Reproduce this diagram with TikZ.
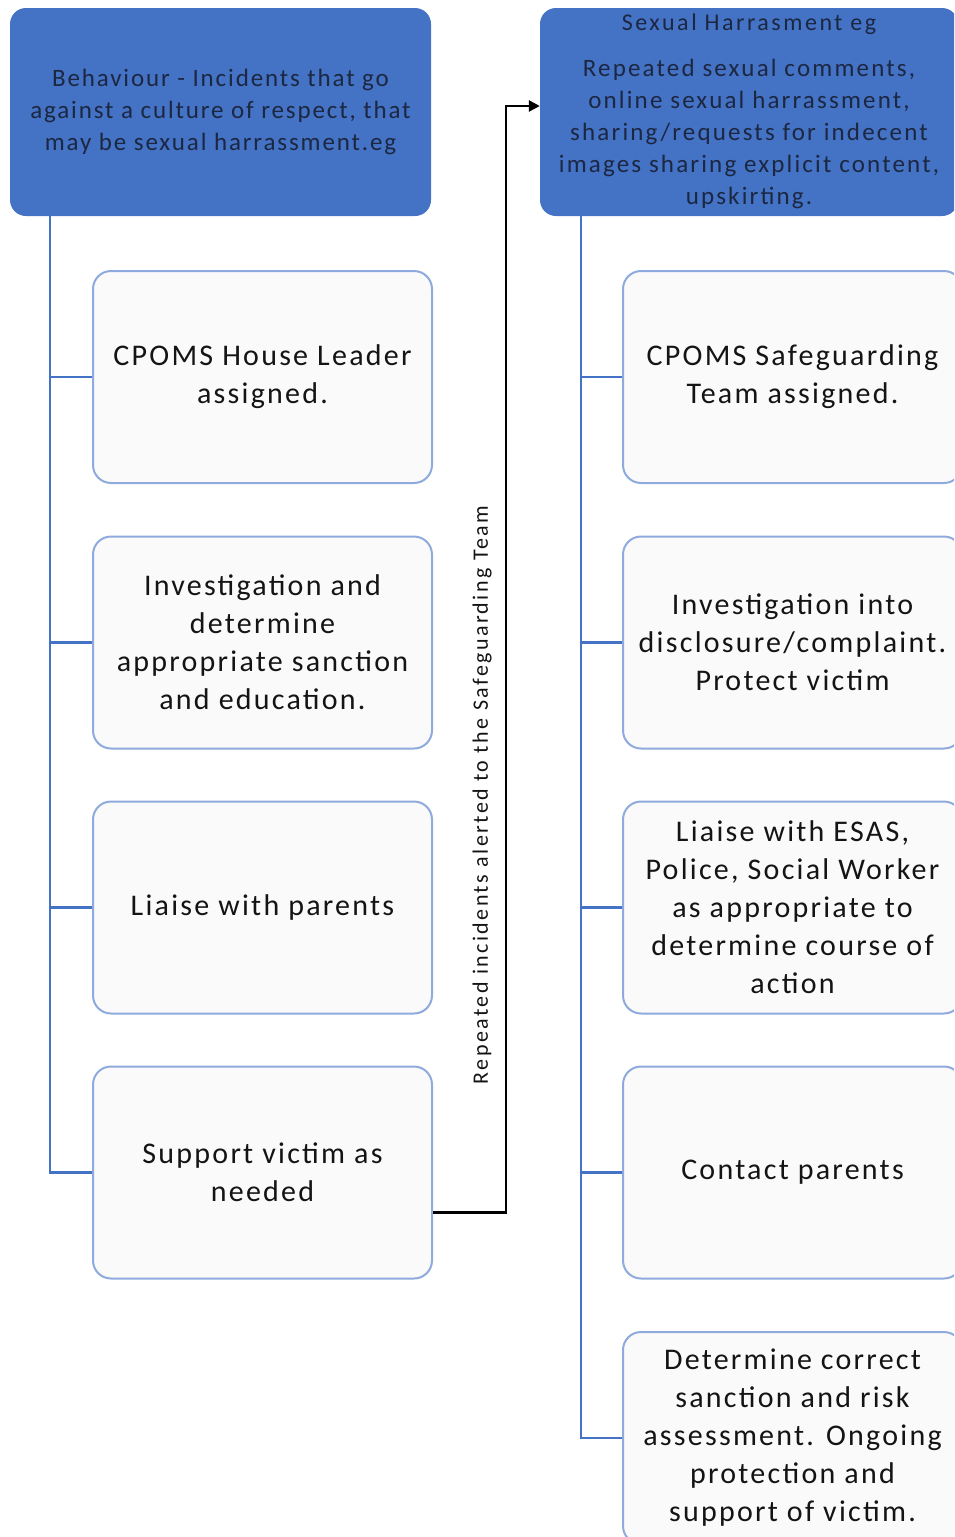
\documentclass[tikz,border=0pt]{standalone}
\usepackage{fontspec}
\setmainfont{Carlito}
\newfontfamily\childfont[LetterSpace=7.5]{Carlito}
\newfontfamily\hdrfont[LetterSpace=7.5]{Carlito}
\newfontfamily\rhfont[LetterSpace=8.7]{Carlito}
\newfontfamily\titlefont[LetterSpace=10.5]{Carlito}
\newfontfamily\lblfont[LetterSpace=11]{Carlito}
\usetikzlibrary{arrows.meta}
\definecolor{hdr}{HTML}{4472C4}
\definecolor{bord}{HTML}{8FAADC}
\definecolor{boxfill}{HTML}{FAFAFA}
\definecolor{htext}{HTML}{1C2742}
\definecolor{ctext}{HTML}{141414}
\begin{document}
\begin{tikzpicture}[x=1pt,y=-1pt,
  hdrbox/.style={fill=hdr, rounded corners=16pt, minimum width=421pt, minimum height=208pt, inner sep=0pt},
  childbox/.style={draw=bord, line width=2pt, fill=boxfill, rounded corners=18pt, minimum width=339pt, minimum height=212pt, inner sep=0pt, text=ctext, align=center, font=\childfont\fontsize{30}{38}\selectfont},
  hdrtext/.style={text=htext, align=center, font=\hdrfont\fontsize{25}{32}\selectfont},
  tree/.style={draw=hdr, line width=2.5pt},
  alert/.style={draw=black, line width=2.5pt, -{Triangle[length=11pt,width=11pt]}}
]
\useasboundingbox (0,0) rectangle (954,1537);
\clip (0,0) rectangle (954,1537);

% headers
\node[hdrbox] (lh) at (220.5,112) {};
\node[hdrtext] (lht) at (220.5,112) {Behaviour - Incidents that go\\against a culture of respect, that\\may be sexual harrassment.eg};
\node[hdrbox, minimum width=418pt] (rh) at (749,112) {};
\node[hdrtext, font=\titlefont\fontsize{24}{30}\selectfont] (rht) at (749,24) {Sexual Harrasment eg};
\node[hdrtext, font=\rhfont\fontsize{25}{32}\selectfont] (rhb) at (749,134) {Repeated sexual comments,\\online sexual harrassment,\\sharing/requests for indecent\\images sharing explicit content,\\upskirting.};

% left children
\node[childbox] (l1) at (262.5,377) {CPOMS House Leader\\assigned.};
\node[childbox] (l2) at (262.5,642.5) {Investigation and\\determine\\appropriate sanction\\and education.};
\node[childbox] (l3) at (262.5,907.5) {Liaise with parents};
\node[childbox] (l4) at (262.5,1172.5) {Support victim as\\needed};

% right children
\node[childbox] (r1) at (792.5,377) {CPOMS Safeguarding\\Team assigned.};
\node[childbox] (r2) at (792.5,642.5) {Investigation into\\disclosure/complaint.\\Protect victim};
\node[childbox] (r3) at (792.5,907.5) {Liaise with ESAS,\\Police, Social Worker\\as appropriate to\\determine course of\\action};
\node[childbox] (r4) at (792.5,1172.5) {Contact parents};
\node[childbox] (r5) at (792.5,1438) {Determine correct\\sanction and risk\\assessment. Ongoing\\protection and\\support of victim.};

% tree connectors
\coordinate (ltop) at ([xshift=40pt]lh.south west);
\coordinate (rtop) at ([xshift=41pt]rh.south west);
\foreach \n in {l1,l2,l3,l4} \draw[tree] (ltop) |- (\n.west);
\foreach \n in {r1,r2,r3,r4,r5} \draw[tree] (rtop) |- (\n.west);

% alert arrow
\coordinate (bend) at (506,106);
\draw[alert] ([yshift=-40pt]l4.east) -| (bend) -- (rh.west |- bend);
\node[rotate=90, text=ctext, font=\lblfont\fontsize{22}{26}\selectfont] (lbl) at (482,795) {Repeated incidents alerted to the Safeguarding Team};
\end{tikzpicture}
\end{document}
